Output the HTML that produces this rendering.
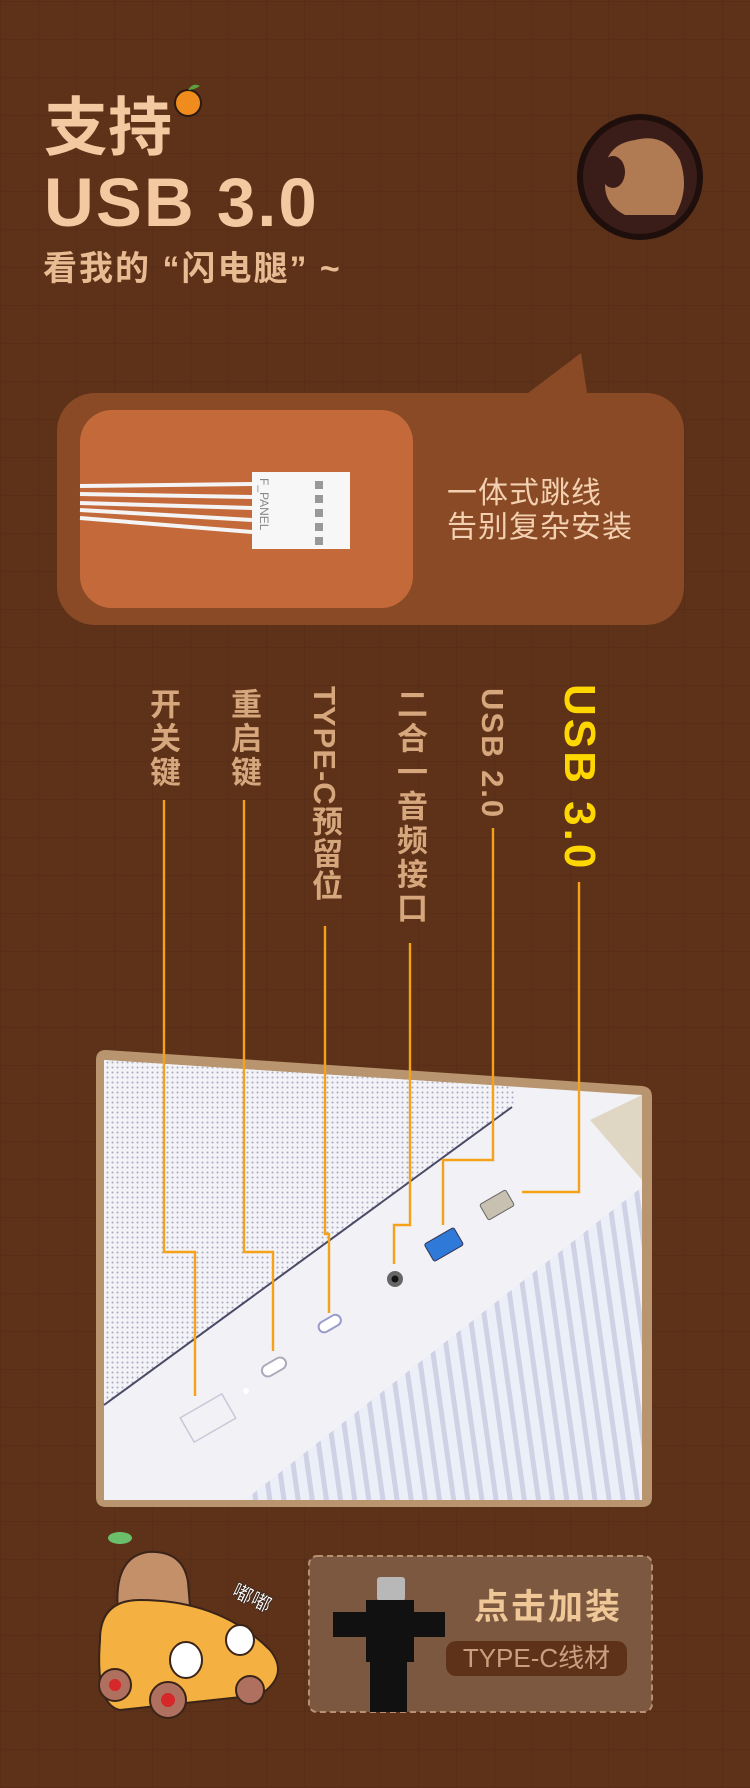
<!DOCTYPE html>
<html><head><meta charset="utf-8"><style>
html,body{margin:0;padding:0;}
body{width:750px;height:1788px;overflow:hidden;background:#5e3119;position:relative;font-family:"Liberation Sans","Noto Sans CJK SC",sans-serif;}
.bg{position:absolute;inset:0;background:
repeating-linear-gradient(90deg,rgba(0,0,0,0.06) 0 1px,transparent 1px 38px),
repeating-linear-gradient(0deg,rgba(0,0,0,0.06) 0 1px,transparent 1px 38px),#5e3119;}
.t{position:absolute;white-space:nowrap;}
.v{position:absolute;writing-mode:vertical-rl;color:#d6a77c;font-size:31px;font-weight:bold;line-height:1;letter-spacing:3px;}
</style></head><body>
<div class="bg"></div>
<svg width="750" height="1788" style="position:absolute;left:0;top:0">
  <circle cx="188" cy="103" r="13" fill="#f08c1e" stroke="#2a1a10" stroke-width="2"/>
  <path d="M188 90 q5-8 12-4 q-6 4-12 4z" fill="#5aa040"/>
  <circle cx="640" cy="177" r="63" fill="#1e0f0c"/>
  <circle cx="640" cy="177" r="57" fill="#3a1c18"/>
  <path d="M605 185 q-5-40 30-45 q30-8 45 20 q10 30 -5 55 l-50 0 q-20-10-20-30z" fill="#b07a52"/>
  <ellipse cx="613" cy="172" rx="12" ry="16" fill="#3a1c18"/>
  <path d="M528 393 L581 353 L587 393 Z" fill="#8a4a26"/>
  <rect x="57" y="393" width="627" height="232" rx="38" fill="#8a4a26"/>
  <rect x="80" y="410" width="333" height="198" rx="32" fill="#c46a3a"/>
  <g stroke="#f4f4f4" stroke-width="4" fill="none">
    <path d="M80 486 L252 484"/><path d="M80 494 L252 497"/><path d="M80 503 L252 508"/><path d="M80 510 L252 520"/><path d="M80 518 L252 532"/>
  </g>
  <rect x="252" y="472" width="98" height="77" fill="#f7f7f7"/>
  <g fill="#999"><rect x="315" y="481" width="8" height="8"/><rect x="315" y="495" width="8" height="8"/><rect x="315" y="509" width="8" height="8"/><rect x="315" y="523" width="8" height="8"/><rect x="315" y="537" width="8" height="8"/></g>
  <text x="0" y="0" transform="translate(260,478) rotate(90)" font-family="Liberation Sans" font-size="12" fill="#888">F_PANEL</text>

  <path d="M96 1060 Q96 1050 106 1050 L642 1086 Q652 1087 652 1097 L652 1497 Q652 1507 642 1507 L106 1507 Q96 1507 96 1497 Z" fill="#b8956e"/>
  <path d="M104 1060 L642 1095 L642 1500 L104 1500 Z" fill="#f1f1f6"/>
  <path d="M642 1095 L642 1180 L590 1120 Z" fill="#e0d6c4"/>
  <defs>
    <pattern id="mesh" width="5" height="5" patternUnits="userSpaceOnUse"><rect width="5" height="5" fill="#f3f3f7"/><circle cx="2.5" cy="2.5" r="1" fill="#a6a8bc"/></pattern>
    <pattern id="fins" width="14" height="14" patternUnits="userSpaceOnUse" patternTransform="rotate(-8)"><rect width="14" height="14" fill="#eceef8"/><rect width="5" height="14" fill="#cfd1e4"/></pattern>
  </defs>
  <path d="M104 1060 L505 1086 Q520 1090 512 1107 L104 1405 Z" fill="url(#mesh)"/>
  <path d="M104 1405 L512 1107" stroke="#4a4a66" stroke-width="2"/>
  <path d="M642 1187 L642 1500 L245 1500 Z" fill="url(#fins)"/>
  <rect x="482" y="1196" width="30" height="18" rx="2" fill="#c8c0b0" stroke="#666" transform="rotate(-30 497 1205)"/>
  <rect x="427" y="1235" width="34" height="20" rx="2" fill="#2f7ad8" stroke="#335" transform="rotate(-30 443 1245)"/>
  <circle cx="395" cy="1279" r="8" fill="#666"/><circle cx="395" cy="1279" r="3.5" fill="#111"/>
  <rect x="318" y="1318" width="24" height="11" rx="5.5" fill="#fff" stroke="#9a9acb" stroke-width="2" transform="rotate(-30 330 1324)"/>
  <rect x="261" y="1361" width="26" height="12" rx="6" fill="#fff" stroke="#aab" stroke-width="2" transform="rotate(-30 274 1367)"/>
  <rect x="184" y="1404" width="48" height="28" fill="none" stroke="#c8c8d8" stroke-width="1.5" transform="rotate(-30 208 1418)"/>
  <circle cx="246" cy="1391" r="3" fill="#fff"/>
  <g stroke="#f5a21a" stroke-width="2.4" fill="none">
    <path d="M164 800 L164 1252 L195 1252 L195 1396"/>
    <path d="M244 800 L244 1252 L273 1252 L273 1351"/>
    <path d="M325 926 L325 1234 L329 1234 L329 1313"/>
    <path d="M410 943 L410 1225 L394 1225 L394 1264"/>
    <path d="M493 828 L493 1160 L443 1160 L443 1225"/>
    <path d="M579 882 L579 1192 L522 1192"/>
  </g>

  <ellipse cx="120" cy="1538" rx="12" ry="6" fill="#6cbf6a"/>
  <path d="M118 1612 q-5-55 30-60 q35 -2 40 30 l5 60 l-70 20z" fill="#c4906a" stroke="#3a2418" stroke-width="2"/>
  <path d="M100 1640 q0-40 40-40 q80 0 130 50 q20 25 -10 45 l-140 15 q-25-5-20-70z" fill="#f4b040" stroke="#3a2418" stroke-width="2"/>
  <ellipse cx="240" cy="1640" rx="14" ry="15" fill="#fff" stroke="#3a2418" stroke-width="2"/>
  <ellipse cx="186" cy="1660" rx="16" ry="18" fill="#fff" stroke="#3a2418" stroke-width="2"/>
  <circle cx="115" cy="1685" r="16" fill="#b07060" stroke="#3a2418" stroke-width="2"/><circle cx="115" cy="1685" r="6" fill="#d62828"/>
  <circle cx="168" cy="1700" r="18" fill="#b07060" stroke="#3a2418" stroke-width="2"/><circle cx="168" cy="1700" r="7" fill="#d62828"/>
  <circle cx="250" cy="1690" r="14" fill="#b07060" stroke="#3a2418" stroke-width="2"/>
  <text x="230" y="1600" font-family="Liberation Sans,Noto Sans CJK SC,sans-serif" font-size="20" font-weight="bold" fill="#fff" stroke="#3a2418" stroke-width="0.8" transform="rotate(25 240 1600)">嘟嘟</text>

  <rect x="309" y="1556" width="343" height="156" rx="8" fill="#7d5840" stroke="#b89070" stroke-width="2" stroke-dasharray="6 4"/>
  <rect x="377" y="1577" width="28" height="24" rx="3" fill="#b8b8b8"/>
  <rect x="366" y="1600" width="48" height="62" fill="#111"/>
  <rect x="333" y="1612" width="112" height="25" fill="#111"/>
  <rect x="370" y="1660" width="37" height="52" fill="#111"/>
  <rect x="446" y="1641" width="181" height="35" rx="10" fill="#5e3219"/>
</svg>

<div class="t" style="left:44px;top:96px;font-size:64px;font-weight:bold;color:#f2c9a0;line-height:1;">支持</div>
<div class="t" style="left:44px;top:168px;font-size:69px;font-weight:bold;color:#f2c9a0;line-height:1;letter-spacing:2px;">USB 3.0</div>
<div class="t" style="left:43px;top:252px;font-size:34px;font-weight:bold;color:#e8bb92;line-height:1;letter-spacing:2px;">看我的 “闪电腿” ~</div>
<div class="t" style="left:447px;top:477px;font-size:30px;color:#f2d0b0;line-height:34px;letter-spacing:1px;">一体式跳线<br>告别复杂安装</div>

<div class="v" style="left:147px;top:688px;">开关键</div>
<div class="v" style="left:228px;top:688px;">重启键</div>
<div class="v" style="left:309px;top:686px;letter-spacing:1px;">TYPE-C预留位</div>
<div class="v" style="left:394px;top:688px;">二合一音频接口</div>
<div class="v" style="left:477px;top:688px;letter-spacing:2px;">USB 2.0</div>
<div class="v" style="left:557px;top:684px;color:#ffd700;font-size:44px;letter-spacing:3px;">USB 3.0</div>

<div class="t" style="left:474px;top:1590px;font-size:35px;font-weight:bold;color:#f0c898;letter-spacing:2px;line-height:1;">点击加装</div>
<div class="t" style="left:446px;top:1643px;width:181px;text-align:center;font-size:26px;color:#c8a080;line-height:31px;">TYPE-C线材</div>
</body></html>
